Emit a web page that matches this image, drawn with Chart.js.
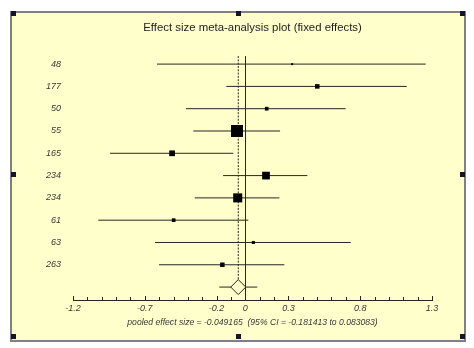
<!DOCTYPE html>
<html><head><meta charset="utf-8">
<script src="https://cdn.jsdelivr.net/npm/chart.js@4"></script>
<style>html,body{margin:0;padding:0;background:#fff;overflow:hidden}#wrap{width:474px;height:348px;position:relative}</style>
</head><body><div id="wrap"><canvas id="c"></canvas></div>
<script>
// ---- data ----
const studyLabels = ['48','177','50','55','165','234','234','61','63','263'];
const effect  = [0.326, 0.501, 0.149, -0.058, -0.510, 0.144, -0.053, -0.499, 0.056, -0.160];
const ciLow   = [-0.615, -0.132, -0.413, -0.362, -0.942, -0.155, -0.352, -1.024, -0.629, -0.601];
const ciHigh  = [1.256, 1.124, 0.699, 0.242, -0.084, 0.432, 0.237, 0.021, 0.734, 0.272];
const weights = [1.0, 5.1, 3.4, 36.2, 8.2, 14.9, 20.4, 3.4, 2.3, 5.1]; // relative weight (%)
const pooledEffect = -0.049165;
const pooledLow = -0.181413;
const pooledHigh = 0.083083;
const xTickLabels = [-1.2, -0.7, -0.2, 0, 0.3, 0.8, 1.3];
const titleText = 'Effect size meta-analysis plot (fixed effects)';
const footerText = 'pooled effect size = -0.049165  (95% CI = -0.181413 to 0.083083)';

// ---- styling ----
const ink = '#262626';
const textCol = '#383838';
const paper = '#FFFFCC';
const fontFam = '"Liberation Sans", Arial, sans-serif';
const pooledRow = studyLabels.length;
const yMin = -0.36, yMax = 10.58;

const datasets = [];
studyLabels.forEach((l, i) => {
  datasets.push({type: 'line', data: [{x: ciLow[i], y: i}, {x: ciHigh[i], y: i}],
    borderColor: ink, borderWidth: 1, pointRadius: 0, order: 3});
});
datasets.push({type: 'line', data: [{x: pooledLow, y: pooledRow}, {x: pooledHigh, y: pooledRow}],
  borderColor: ink, borderWidth: 1, pointRadius: 0, order: 3});
datasets.push({type: 'line', data: [{x: pooledEffect, y: yMin}, {x: pooledEffect, y: pooledRow}],
  borderColor: ink, borderWidth: 1, borderDash: [2, 1.3], pointRadius: 0, order: 4});
datasets.push({type: 'scatter', data: effect.map((e, i) => ({x: e, y: i})),
  pointStyle: 'rect', pointRadius: weights.map(w => 2 * Math.sqrt(w) / Math.SQRT2),
  backgroundColor: '#000', borderWidth: 0, order: 1});
datasets.push({type: 'scatter', data: [{x: pooledEffect, y: pooledRow}],
  pointStyle: 'rectRot', pointRadius: 7.5, backgroundColor: paper,
  borderColor: ink, borderWidth: 1, order: 0});

const framePlugin = {
  id: 'frame',
  beforeDraw(chart) {
    const ctx = chart.ctx;
    ctx.save();
    ctx.fillStyle = '#ffffff';
    ctx.fillRect(0, 0, chart.width, chart.height);
    ctx.fillStyle = paper;
    ctx.fillRect(11, 12, 454, 329);
    ctx.strokeStyle = '#808080';
    ctx.lineWidth = 2;
    ctx.strokeRect(11, 12, 454, 329);
    ctx.restore();
  },
  afterDraw(chart) {
    const ctx = chart.ctx;
    const xs = chart.scales.x;
    const yb = chart.chartArea.bottom;
    ctx.save();
    ctx.strokeStyle = ink;
    ctx.lineWidth = 1;
    ctx.beginPath();
    for (let k = -12; k <= 13; k++) {
      const v = k / 10;
      const px = Math.round(xs.getPixelForValue(v)) + 0.5;
      const major = xTickLabels.some(t => Math.abs(t - v) < 1e-9);
      ctx.moveTo(px, yb);
      ctx.lineTo(px, yb - (major ? 4 : 3));
    }
    ctx.stroke();
    ctx.fillStyle = '#14142a';
    [[11,11],[236,11],[460,11],[11,172],[460,172],[11,334],[236,334],[460,334]].forEach(([x,y]) => ctx.fillRect(x, y, 5, 5));
    ctx.restore();
  }
};

new Chart(document.getElementById('c'), {
  type: 'scatter',
  data: {datasets},
  options: {
    responsive: true, maintainAspectRatio: false, animation: false, events: [],
    layout: {padding: {left: 13, right: 42, top: 0, bottom: 0}},
    plugins: {
      legend: {display: false}, tooltip: {enabled: false},
      title: {display: true, text: titleText, fullSize: false, color: '#222',
        font: {family: fontFam, size: 11.4, weight: 'normal'}, padding: {top: 21, bottom: 21.4}}
    },
    elements: {line: {tension: 0}},
    scales: {
      x: {type: 'linear', min: -1.2, max: 1.3,
        afterBuildTicks: s => { s.ticks = xTickLabels.map(v => ({value: v})); },
        afterFit: s => { s.height = 48; },
        ticks: {autoSkip: false, maxRotation: 0, padding: 3, color: textCol,
          font: {family: fontFam, size: 9, style: 'italic'}, callback: v => String(v)},
        grid: {drawTicks: false, lineWidth: 1,
          color: c => (c.tick && c.tick.value === 0) ? ink : 'rgba(0,0,0,0)'},
        border: {display: true, color: ink, width: 1},
        title: {display: true, text: footerText, color: textCol,
          font: {family: fontFam, size: 8.6, style: 'italic'}, padding: {top: 0, bottom: 19.8}}
      },
      y: {type: 'linear', reverse: true, min: yMin, max: yMax,
        afterBuildTicks: s => { s.ticks = studyLabels.map((l, i) => ({value: i})); },
        afterFit: s => { s.width = 60; },
        ticks: {autoSkip: false, padding: 12, color: textCol,
          font: {family: fontFam, size: 9, style: 'italic'}, callback: v => studyLabels[v]},
        grid: {display: false, drawTicks: false},
        border: {display: false}
      }
    }
  },
  plugins: [framePlugin]
});
</script></body></html>
